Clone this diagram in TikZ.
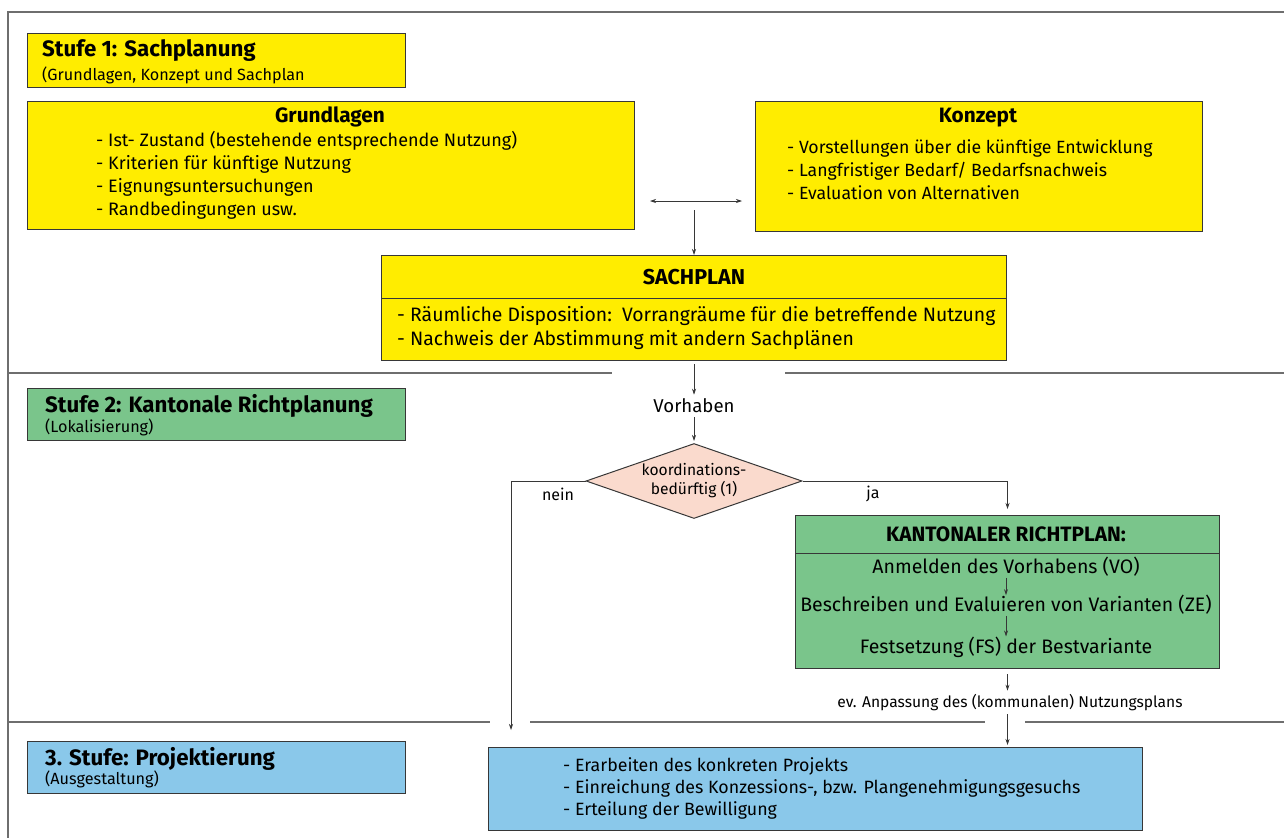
\documentclass[tikz,border=0pt]{standalone}
\usepackage{fontspec}
\setmainfont{Fira Sans}
\usetikzlibrary{arrows.meta,shapes.geometric,positioning}
\definecolor{gelb}{RGB}{255,237,0}
\definecolor{gruen}{RGB}{122,197,139}
\definecolor{blau}{RGB}{138,200,234}
\definecolor{rosa}{RGB}{250,218,205}
\definecolor{linie}{RGB}{55,55,55}
\definecolor{rahmen}{RGB}{110,110,110}
\tikzset{
  kasten/.style={draw=linie, line width=1pt, anchor=north west, inner sep=0pt},
  titel/.style={font=\bfseries\fontsize{22.3}{25}\selectfont, inner sep=0pt},
  kopf/.style={font=\bfseries\fontsize{20.8}{23}\selectfont, inner sep=0pt},
  untertitel/.style={font=\fontsize{16.2}{18}\selectfont, inner sep=0pt},
  liste/.style={font=\fontsize{18}{23}\selectfont, align=left, inner sep=0pt, anchor=west},
  zeile/.style={font=\fontsize{19.5}{22}\selectfont, inner sep=0pt},
  klein/.style={font=\fontsize{16}{18}\selectfont, inner sep=0pt},
  pfeil/.style={draw=linie, line width=0.7pt, -{Stealth[length=6pt,width=4pt]}},
  trenn/.style={draw=rahmen, line width=1.2pt}
}
\begin{document}
\begin{tikzpicture}[x=1pt, y=-1pt]
\useasboundingbox (0,0) rectangle (1284,838);

% Rahmen und Trennlinien
\draw[trenn] (1284,12) -- (8,12) -- (8,838);
\draw[trenn] (8,373) -- (612,373);
\draw[trenn] (785,373) -- (1284,373);
\draw[trenn] (8,722) -- (490,722);
\draw[trenn] (530,722) -- (985,722);
\draw[trenn] (1025,722) -- (1284,722);

% Stufe 1
\node[kasten, fill=gelb, minimum width=378pt, minimum height=54pt] (stufeA) at (27,33) {};
\node[titel, anchor=west] (stufeAt) at (42,51) {Stufe 1: Sachplanung};
\node[untertitel, anchor=west] (stufeAu) at (42,75) {(Grundlagen, Konzept und Sachplan};

\node[kasten, fill=gelb, minimum width=607pt, minimum height=128pt] (grund) at (27,101) {};
\node[kopf] (grundt) at (330,117) {Grundlagen};
\node[liste] (grundl) at (96,175) {- Ist- Zustand (bestehende entsprechende Nutzung)\\
  - Kriterien für künftige Nutzung\\
  - Eignungsuntersuchungen\\
  - Randbedingungen usw.};

\node[kasten, fill=gelb, minimum width=447pt, minimum height=130pt] (konz) at (755,101) {};
\node[kopf] (konzt) at (978,118) {Konzept};
\node[liste, font=\fontsize{17.7}{23}\selectfont] (konzl) at (787,170) {- Vorstellungen über die künftige Entwicklung\\
  - Langfristiger Bedarf/ Bedarfsnachweis\\
  - Evaluation von Alternativen};

\coordinate (wechselA) at (650,201);
\coordinate (wechselB) at (742,201);
\draw[pfeil, {Stealth[length=6pt,width=4pt]}-{Stealth[length=6pt,width=4pt]}] (wechselA) -- (wechselB);

\node[kasten, fill=gelb, minimum width=625pt, minimum height=105pt] (sach) at (381,255) {};
\draw[draw=linie, line width=1pt] (sach.west |- 0,298) -- (sach.east |- 0,298);
\node[kopf, font=\bfseries\fontsize{21.5}{24}\selectfont] (sacht) at (694,277) {SACHPLAN};
\node[liste, font=\fontsize{19.4}{24}\selectfont] (sachl) at (397,328) {- Räumliche Disposition:\, Vorrangräume für die betreffende Nutzung\\
  - Nachweis der Abstimmung mit andern Sachplänen};

\coordinate (zusammen) at (694,210);
\draw[pfeil] (zusammen) -- (sach.north);

% Stufe 2
\node[kasten, fill=gruen, minimum width=378pt, minimum height=52pt] (stufeB) at (27,388) {};
\node[titel, anchor=west] (stufeBt) at (45,406) {Stufe 2: Kantonale Richtplanung};
\node[untertitel, anchor=west] (stufeBu) at (45,427) {(Lokalisierung)};

\node[zeile, font=\fontsize{18.6}{21}\selectfont] (vorh) at (694,406) {Vorhaben};
\draw[pfeil, shorten <=3pt, shorten >=4pt] (sach.south) -- (vorh.north);

\node[diamond, draw=linie, line width=1pt, fill=rosa, shape aspect=2.9,
  minimum width=216pt, minimum height=75pt, inner sep=1pt, align=center,
  font=\fontsize{15.6}{19}\selectfont] (raute) at (694,481) {koordinations-\\bedürftig (1)};
\draw[pfeil, shorten <=4pt, shorten >=2pt] (vorh.south) -- (raute.north);

\coordinate (neinEnde) at (511,730);
\draw[pfeil] (raute.west) -| (neinEnde);
\node[klein] (nein) at (558,494) {nein};

\node[kasten, fill=gruen, minimum width=424pt, minimum height=153pt] (richt) at (795,515) {};
\draw[draw=linie, line width=1pt] (richt.west |- 0,553) -- (richt.east |- 0,553);
\node[kopf] (richtt) at (1006,534) {KANTONALER RICHTPLAN:};
\node[zeile] (anmeld) at (1006,567) {Anmelden des Vorhabens (VO)};
\node[zeile] (beschr) at (1006,605) {Beschreiben und Evaluieren von Varianten (ZE)};
\node[zeile] (festsetz) at (1006,647) {Festsetzung (FS) der Bestvariante};
\draw[pfeil, shorten <=1pt] (anmeld.south) -- (beschr.north);
\draw[pfeil, shorten <=1pt] (beschr.south) -- (festsetz.north);

\draw[pfeil, shorten >=6pt] (raute.east) -| (richt.north);
\node[klein] (ja) at (873,494) {ja};

\node[klein, font=\fontsize{15.6}{18}\selectfont] (anpass) at (1010,703) {ev. Anpassung des (kommunalen) Nutzungsplans};
\draw[pfeil, shorten <=5pt, shorten >=4pt] (richt.south) -- (anpass.north -| richt.south);

% Stufe 3
\node[kasten, fill=blau, minimum width=378pt, minimum height=52pt] (stufeC) at (27,741) {};
\node[titel, anchor=west] (stufeCt) at (45,759) {3. Stufe: Projektierung};
\node[untertitel, anchor=west] (stufeCu) at (45,779) {(Ausgestaltung)};

\node[kasten, fill=blau, minimum width=654pt, minimum height=83pt] (proj) at (488,747) {};
\node[liste, font=\fontsize{17.8}{22}\selectfont] (projl) at (563,788) {- Erarbeiten des konkreten Projekts\\
  - Einreichung des Konzessions-, bzw. Plangenehmigungsgesuchs\\
  - Erteilung der Bewilligung};
\draw[pfeil, shorten <=3pt, shorten >=2pt] (anpass.south -| richt.south) -- (proj.north -| richt.south);

\end{tikzpicture}
\end{document}
